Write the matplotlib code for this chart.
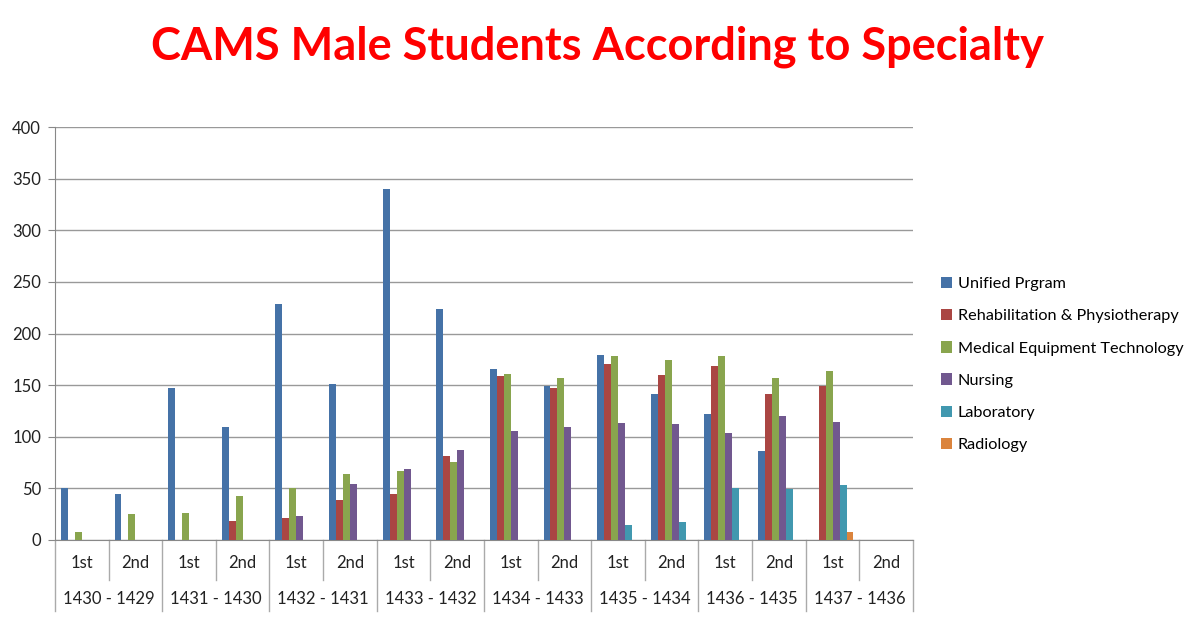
import matplotlib
matplotlib.use("Agg")
import matplotlib.pyplot as plt
from matplotlib.patches import Patch
import numpy as np

plt.rcParams['font.family'] = ['Lato', 'DejaVu Sans']

years = ["1430 - 1429", "1431 - 1430", "1432 - 1431", "1433 - 1432",
         "1434 - 1433", "1435 - 1434", "1436 - 1435", "1437 - 1436"]
terms = ["1st", "2nd"]

series_names = ["Unified Prgram", "Rehabilitation & Physiotherapy",
                "Medical Equipment Technology", "Nursing", "Laboratory", "Radiology"]
colors = ["#4572A7", "#AA4643", "#89A54E", "#71588F", "#4198AF", "#DB843D"]

# one value per (year, term), 16 categories; 0 = no bar
unified = [50, 45, 147, 109, 229, 151, 340, 224, 166, 149, 179, 141, 122, 86, 0, 0]
rehab = [0, 0, 0, 18, 21, 39, 45, 81, 159, 147, 170, 160, 169, 141, 149, 0]
med_equip = [8, 25, 26, 43, 50, 64, 67, 76, 161, 157, 178, 174, 178, 157, 164, 0]
nursing = [0, 0, 0, 0, 23, 54, 69, 87, 106, 109, 113, 112, 104, 120, 114, 0]
laboratory = [0, 0, 0, 0, 0, 0, 0, 0, 0, 0, 15, 17, 50, 49, 53, 0]
radiology = [0, 0, 0, 0, 0, 0, 0, 0, 0, 0, 0, 0, 0, 0, 8, 0]

data = [unified, rehab, med_equip, nursing, laboratory, radiology]

fig = plt.figure(figsize=(12, 6.19), dpi=100)
ax = fig.add_axes([55 / 1200, 79 / 619, 858 / 1200, 413 / 619])

n_cat = len(years) * len(terms)
x = np.arange(n_cat)
bw = 0.13
for i, (vals, c, name) in enumerate(zip(data, colors, series_names)):
    offs = (i - 2.5) * bw
    ax.bar(x + offs, vals, width=bw, color=c, edgecolor="none", label=name, zorder=3)

ax.set_xlim(-0.5, n_cat - 0.5)
ax.set_ylim(0, 400)
ax.set_yticks(range(0, 401, 50))
ax.tick_params(axis="y", labelsize=12, length=5, color="#888888", pad=5,
               labelcolor="#222222")
ax.yaxis.grid(True, color="#999999", lw=1, zorder=0)
ax.set_xticks([])
for s in ["top", "right"]:
    ax.spines[s].set_visible(False)
ax.spines["left"].set_color("#888888")
ax.spines["bottom"].set_color("#888888")

# two-level category axis
trans = ax.get_xaxis_transform()
for k in range(n_cat):
    ax.text(k, -0.055, terms[k % 2], transform=trans, ha="center", va="center",
            fontsize=12, color="#222222")
for j, yr in enumerate(years):
    ax.text(2 * j + 0.5, -0.142, yr, transform=trans, ha="center", va="center",
            fontsize=12, color="#222222")
for k in range(n_cat + 1):
    edge = k - 0.5
    low = -0.172 if k % 2 == 0 else -0.098
    ax.plot([edge, edge], [0, low], transform=trans, color="#aaaaaa", lw=1,
            clip_on=False)

fig.text(597 / 1200, 1 - 47 / 619, "CAMS Male Students According to Specialty",
         ha="center", va="center", fontsize=32.5, fontweight="bold", color="#FF0000")

handles = [Patch(facecolor=c, edgecolor="none") for c in colors]
fig.legend(handles, series_names, loc="upper left",
           bbox_to_anchor=(926 / 1200, 1 - 262 / 619), frameon=False,
           fontsize=11.7, handlelength=0.7, handleheight=0.7,
           handletextpad=0.35, labelspacing=1.1)

fig.savefig("out.png", dpi=100, facecolor="white")
